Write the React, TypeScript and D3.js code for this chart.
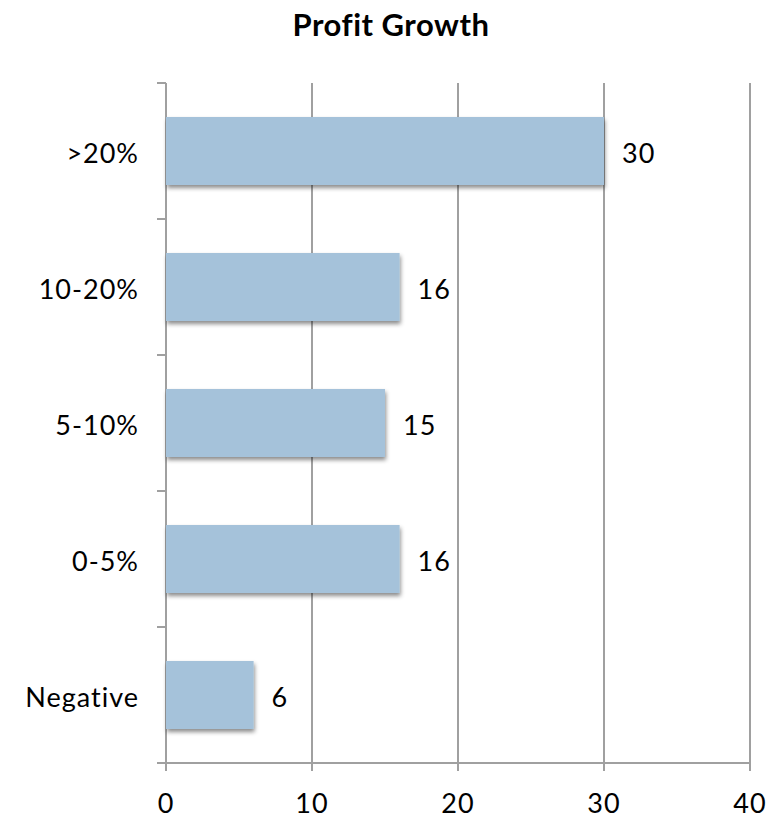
import React from "react";
import * as d3 from "d3";

const categories = [">20%", "10-20%", "5-10%", "0-5%", "Negative"];
const values = [30, 16, 15, 16, 6];
const xTicks = [0, 10, 20, 30, 40];
const title = "Profit Growth";

export default function App() {
  const width = 778;
  const height = 819;
  const left = 166;
  const right = 750;
  const top = 83;
  const bottom = 763;
  const x = d3.scaleLinear().domain([0, 40]).range([left, right]);
  const y = d3.scaleBand().domain(categories).range([top, bottom]).paddingInner(0.5).paddingOuter(0.25);
  const bandStep = (bottom - top) / categories.length;
  const catTicks = d3.range(categories.length + 1).map((i) => top + i * bandStep);
  const font = "'Lato', 'Open Sans', sans-serif";
  const axisColor = "#a0a0a0";
  const fs = 27;
  const ls = 1;
  return (
    <svg width={width} height={height} style={{ position: "absolute", left: 0, top: 0 }}>
      <defs>
        <filter id="shadow" x="-10%" y="-20%" width="130%" height="160%">
          <feDropShadow dx="1" dy="3" stdDeviation="2" floodColor="#000" floodOpacity="0.45" />
        </filter>
      </defs>
      <rect width={width} height={height} fill="#fff" />
      <text x={391} y={36} textAnchor="middle" fontFamily={font} fontWeight="bold" fontSize={31} letterSpacing={0.5} fill="#000">
        {title}
      </text>
      {xTicks.filter((t) => t > 0).map((t) => (
        <line key={"g" + t} x1={x(t)} x2={x(t)} y1={top} y2={bottom + 8} stroke={axisColor} strokeWidth={2} />
      ))}
      <line x1={left} x2={left} y1={top} y2={bottom + 8} stroke={axisColor} strokeWidth={2} />
      <line x1={left - 9} x2={right} y1={bottom} y2={bottom} stroke={axisColor} strokeWidth={2} />
      {catTicks.map((t, i) => (
        <line key={"ct" + i} x1={left - 9} x2={left} y1={t} y2={t} stroke={axisColor} strokeWidth={2} />
      ))}
      {categories.map((c, i) => (
        <g key={c}>
          <rect
            x={x(0)}
            y={y(c)}
            width={x(values[i]) - x(0)}
            height={y.bandwidth()}
            fill="#a5c2da"
            filter="url(#shadow)"
          />
          <text
            x={x(values[i]) + 18}
            y={(y(c) as number) + y.bandwidth() / 2}
            dy="0.46em"
            fontFamily={font}
            fontSize={fs}
            letterSpacing={ls}
            fill="#000"
          >
            {values[i]}
          </text>
          <text
            x={139}
            y={(y(c) as number) + y.bandwidth() / 2}
            dy="0.46em"
            textAnchor="end"
            fontFamily={font}
            fontSize={fs}
            letterSpacing={ls}
            fill="#000"
          >
            {c}
          </text>
        </g>
      ))}
      {xTicks.map((t) => (
        <text key={"xl" + t} x={x(t)} y={813} textAnchor="middle" fontFamily={font} fontSize={fs} letterSpacing={ls} fill="#000">
          {t}
        </text>
      ))}
    </svg>
  );
}
